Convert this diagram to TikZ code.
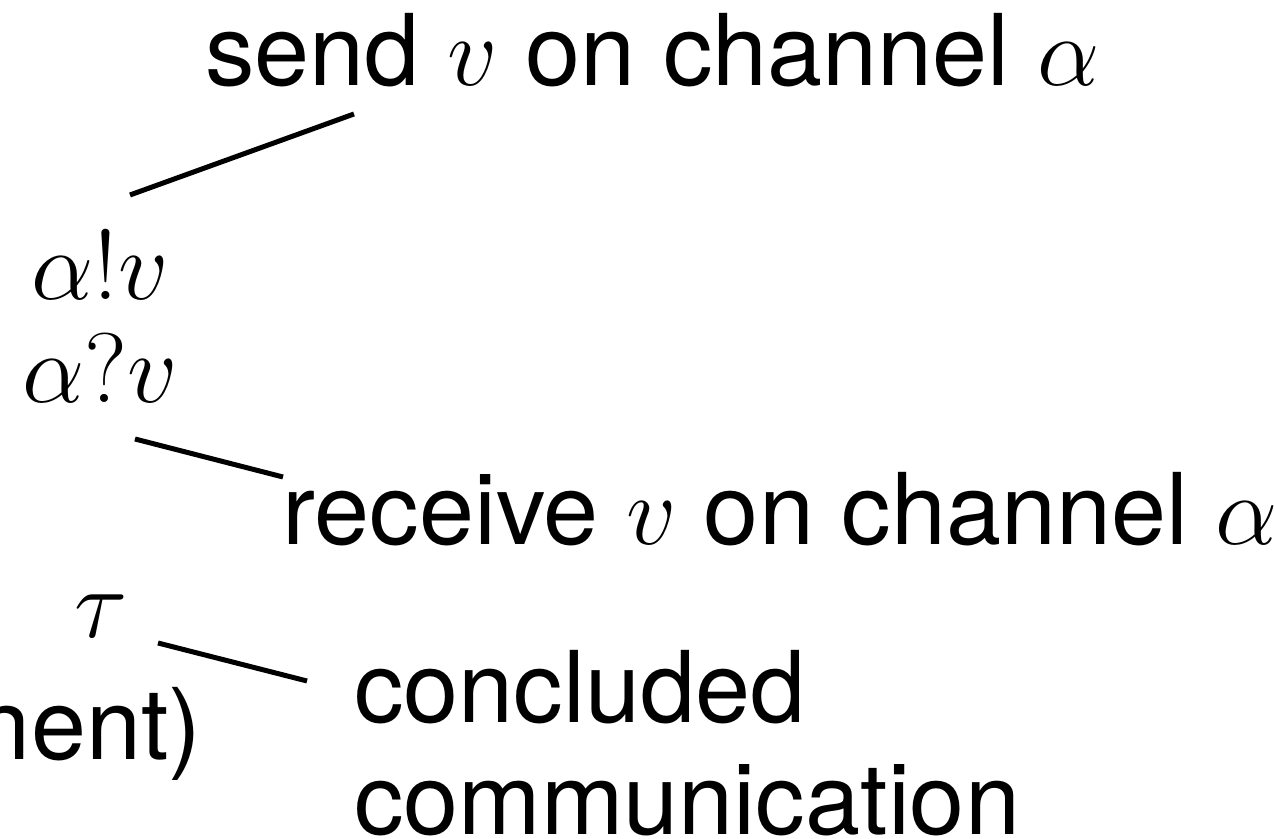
\RequirePackage{fix-cm}
\documentclass[tikz,border=0pt]{standalone}
\usepackage{fontspec}
\setmainfont{TeX Gyre Heros}
\usepackage{tikz}
\usetikzlibrary{positioning}
\tikzset{
  lbl/.style={inner sep=0pt, anchor=base west, font=\fontsize{49.5}{56}\selectfont, align=left},
  act/.style={inner sep=0pt, anchor=base, font=\fontsize{49.5}{56}\selectfont},
  link/.style={line width=2.5pt, black},
}

\begin{document}
\begin{tikzpicture}[x=0.5pt, y=0.5pt]
  \useasboundingbox (0,0) rectangle (1274,839);

  \node[lbl] (sendlbl) at (205,753) {send $v$ on channel $\alpha$};
  \node[act] (sendout) at (100,539) {$\alpha!v$};
  \node[act] (recvout) at (100,436) {$\alpha?v$};
  \node[lbl] (recvlbl) at (282,294) {receive $v$ on channel $\alpha$};
  \node[act] (tau) at (101,201) {$\tau$};
  \node[lbl, anchor=base east] (movelbl) at (202,79) {nent)};
  % base of a two-line node sits on its last line
  \node[lbl] (donelbl) at (354,4) {concluded\\communication};

  \draw[link] ([shift={(30,105)}]sendout.base) -- ([shift={(149,-28)}]sendlbl.base west);
  \draw[link] ([shift={(35,-36)}]recvout.base) -- ([shift={(1,68)}]recvlbl.base west);
  \draw[link] ([shift={(57,-5)}]tau.base) -- ([shift={(-47,154)}]donelbl.base west);

\end{tikzpicture}
\end{document}
